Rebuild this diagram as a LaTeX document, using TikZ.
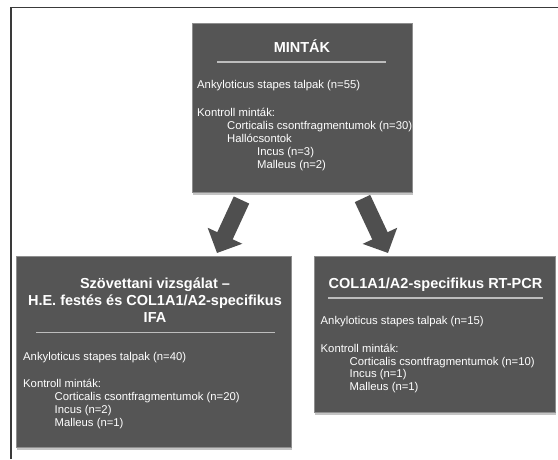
\documentclass[tikz,border=0pt]{standalone}
\usepackage{fontspec}
\setmainfont{Liberation Sans}
\usetikzlibrary{arrows.meta}
\definecolor{boxgray}{HTML}{555555}
\definecolor{boxedge}{HTML}{8E8E8E}
\definecolor{shadowgray}{HTML}{C4C4C4}
\definecolor{rulegray}{HTML}{BDBDBD}
\definecolor{arrowgray}{HTML}{4F4F4F}
\definecolor{framegray}{HTML}{3A3A3A}
\tikzset{
  box/.style={fill=boxgray, draw=boxedge, line width=1pt, inner sep=0pt},
  boxshadow/.style={fill=shadowgray, draw=none},
  ttl/.style={text=white, font=\bfseries\fontsize{14.5}{17}\selectfont, anchor=base, inner sep=0pt},
  txt/.style={text=white, font=\fontsize{11.3}{12.9}\selectfont, anchor=base west, inner sep=0pt},
  hrule/.style={draw=rulegray, line width=1.2pt},
  bigarrow/.style={draw=arrowgray, line width=17pt, -{Triangle[length=19pt,width=37pt,color=arrowgray]}},
  frameline/.style={draw=framegray, line width=1.8pt}
}
\begin{document}
\begin{tikzpicture}[x=1pt,y=-1pt]
\useasboundingbox (0,0) rectangle (558,459);
% frame
\draw[frameline] (11,459) -- (11,7.5) -- (558,7.5);
% arrows
\coordinate (la0) at (241.5,200);
\coordinate (la1) at (217,253);
\coordinate (ra0) at (362.5,198.5);
\coordinate (ra1) at (388,253);
\draw[bigarrow] (la0) -- (la1);
\draw[bigarrow] (ra0) -- (ra1);
% shadows
\fill[boxshadow] (193,26) rectangle (413,195);
\fill[boxshadow] (17,259) rectangle (292,450);
\fill[boxshadow] (315,259) rectangle (556,415);
% boxes
\node[box, minimum width=220pt, minimum height=169pt] (top) at (302,107.5) {};
\node[box, minimum width=275pt, minimum height=191pt] (left) at (153.5,351.5) {};
\node[box, minimum width=241pt, minimum height=156pt] (right) at (434.5,334) {};
% top box
\node[ttl] (ttop) at (302,52.2) {MINTÁK};
\draw[hrule] (217,62) -- (386,62);
\node[txt] (t1) at (197,88) {Ankyloticus stapes talpak (n=55)};
\node[txt] (t2) at (197,116.5) {Kontroll minták:};
\node[txt] (t3) at (227,129.4) {Corticalis csontfragmentumok (n=30)};
\node[txt] (t4) at (227,142.3) {Hallócsontok};
\node[txt] (t5) at (257,155.2) {Incus (n=3)};
\node[txt] (t6) at (257,168.1) {Malleus (n=2)};
% left box
\node[ttl] (tl1) at (155,288.5) {Szövettani vizsgálat –};
\node[ttl] (tl2) at (155,305.9) {H.E. festés és COL1A1/A2-specifikus};
\node[ttl] (tl3) at (155,322.9) {IFA};
\draw[hrule] (36,332.5) -- (275,332.5);
\node[txt] (l1) at (23,360) {Ankyloticus stapes talpak (n=40)};
\node[txt] (l2) at (23,387) {Kontroll minták:};
\node[txt] (l3) at (54.5,400) {Corticalis csontfragmentumok (n=20)};
\node[txt] (l4) at (54.5,413) {Incus (n=2)};
\node[txt] (l5) at (54.5,426) {Malleus (n=1)};
% right box
\node[ttl] (tr1) at (435.5,288.5) {COL1A1/A2-specifikus RT-PCR};
\draw[hrule] (328,298) -- (543,298);
\node[txt] (r1) at (320.5,324.7) {Ankyloticus stapes talpak (n=15)};
\node[txt] (r2) at (320.5,352.5) {Kontroll minták:};
\node[txt] (r3) at (349.5,365.2) {Corticalis csontfragmentumok (n=10)};
\node[txt] (r4) at (349.5,377.9) {Incus (n=1)};
\node[txt] (r5) at (349.5,390.6) {Malleus (n=1)};
\end{tikzpicture}
\end{document}
